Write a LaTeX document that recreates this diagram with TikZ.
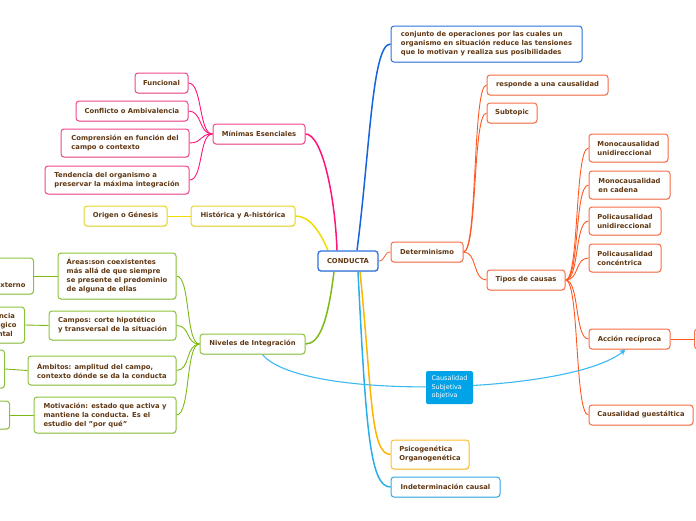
\documentclass[tikz,border=0pt]{standalone}
\usepackage{fontspec}
\setmainfont{DejaVu Sans}
\usetikzlibrary{arrows.meta,backgrounds,shadows}
\definecolor{txt}{RGB}{96,56,19}
\definecolor{cblue}{RGB}{20,100,220}
\definecolor{bblue}{RGB}{45,115,220}
\definecolor{corange}{RGB}{255,87,34}
\definecolor{borange}{RGB}{250,110,70}
\definecolor{cpink}{RGB}{255,20,120}
\definecolor{bpink}{RGB}{240,70,140}
\definecolor{cyellow}{RGB}{240,220,0}
\definecolor{byellow}{RGB}{232,212,40}
\definecolor{cgreen}{RGB}{125,185,20}
\definecolor{bgreen}{RGB}{140,195,60}
\definecolor{cgold}{RGB}{255,180,0}
\definecolor{bgold}{RGB}{255,190,40}
\definecolor{clblue}{RGB}{40,175,235}
\definecolor{blblue}{RGB}{50,170,230}
\definecolor{causfill}{RGB}{0,163,232}
\definecolor{relc}{RGB}{60,185,240}
\begin{document}
\begin{tikzpicture}[x=1pt,y=-1pt,
  bx/.style={draw=#1, rounded corners=3pt, line width=1pt, fill=white, text=txt,
    font=\bfseries\fontsize{6.8}{9}\selectfont, align=left, inner xsep=4pt, inner ysep=1pt,
    drop shadow={shadow xshift=0.4pt, shadow yshift=-0.8pt, opacity=0.25}},
  ln/.style={draw=#1, line width=0.9pt},
  mainln/.style={draw=#1, line width=1.5pt}]
\useasboundingbox (0,0) rectangle (696,520);

% central
\node[bx=bblue, line width=1.3pt, minimum width=60pt, minimum height=20pt] (cond) at (348,261) {CONDUCTA};

% blue branch
\node[bx=bblue, minimum width=191pt, minimum height=36pt] (conj) at (486.5,44)
  {conjunto de operaciones por las cuales un\\organismo en situación reduce las tensiones\\que lo motivan y realiza sus posibilidades};

% orange branch
\node[bx=borange, minimum width=72pt, minimum height=20pt] (det) at (427,252) {Determinismo};
\node[bx=borange, minimum width=121pt, minimum height=20pt] (resp) at (547.5,85) {responde a una causalidad};
\node[bx=borange, minimum width=50pt, minimum height=20pt] (subt) at (512,113) {Subtopic};
\node[bx=borange, minimum width=78pt, minimum height=20pt] (tipos) at (526,280) {Tipos de causas};
\node[bx=borange, minimum width=79pt, minimum height=28pt] (mono1) at (628.5,148) {Monocausalidad\\unidireccional};
\node[bx=borange, minimum width=81pt, minimum height=28pt] (mono2) at (629.5,185) {Monocausalidad\\en cadena};
\node[bx=borange, minimum width=72pt, minimum height=28pt] (poli1) at (625,221) {Policausalidad\\unidireccional};
\node[bx=borange, minimum width=72pt, minimum height=28pt] (poli2) at (625,258) {Policausalidad\\concéntrica};
\node[bx=borange, minimum width=81pt, minimum height=20pt] (acc) at (629.5,339) {Acción recíproca};
\node[bx=borange, minimum width=80pt, minimum height=20pt, anchor=west] (accc) at (694,339) {};
\node[bx=borange, minimum width=104pt, minimum height=20pt] (guest) at (641,415) {Causalidad guestáltica};

% gold / light blue
\node[bx=bgold, minimum width=78pt, minimum height=29pt] (psico) at (430,454.5) {Psicogenética\\Organogenética};
\node[bx=blblue, minimum width=109pt, minimum height=20pt] (indet) at (445.5,487) {Indeterminación causal};

% pink branch
\node[bx=bpink, minimum width=92pt, minimum height=20pt] (mini) at (259,134) {Mínimas Esenciales};
\node[bx=bpink, minimum width=53pt, minimum height=20pt] (func) at (161.5,83) {Funcional};
\node[bx=bpink, minimum width=112pt, minimum height=20pt] (confl) at (132,111) {Conflicto o Ambivalencia};
\node[bx=bpink, minimum width=128pt, minimum height=28pt] (compr) at (125,143) {Comprensión en función del\\campo o contexto};
\node[bx=bpink, minimum width=144pt, minimum height=28pt] (tend) at (117,180) {Tendencia del organismo a\\preservar la máxima integración};

% yellow branch
\node[bx=byellow, minimum width=104pt, minimum height=20pt] (hist) at (243,216) {Histórica y A-histórica};
\node[bx=byellow, minimum width=83pt, minimum height=20pt] (orig) at (125.5,216) {Origen o Génesis};

% green branch
\node[bx=bgreen, minimum width=105pt, minimum height=20pt] (niv) at (252.5,344) {Niveles de Integración};
\node[bx=bgreen, minimum width=118pt, minimum height=46pt] (areas) at (117,276) {Áreas:son coexistentes\\más allá de que siempre\\se presente el predominio\\de alguna de ellas};
\node[bx=bgreen, minimum width=127pt, minimum height=29pt] (campos) at (112.5,325.5) {Campos: corte hipotético\\y transversal de la situación};
\node[bx=bgreen, minimum width=148pt, minimum height=29pt] (ambitos) at (102,370.5) {Ámbitos: amplitud del campo,\\contexto dónde se da la conducta};
\node[bx=bgreen, minimum width=142pt, minimum height=36pt] (motiv) at (105,415) {Motivación: estado que activa y\\mantiene la conducta. Es el\\estudio del "por qué"};
\node[bx=bgreen, inner xsep=8pt, minimum height=36pt, anchor=east] (areasc) at (34,276) {Mente\\Cuerpo\\Mundo externo};
\node[bx=bgreen, inner xsep=8pt, minimum height=36pt, anchor=east] (camposc) at (25,325) {Conciencia\\Psicológico\\Ambiental};
\node[bx=bgreen, minimum width=80pt, minimum height=38pt, anchor=east] (ambc) at (5,369) {};
\node[bx=bgreen, minimum width=80pt, minimum height=28pt, anchor=east] (motc) at (10,415) {};

% relation label
\node[fill=causfill, rounded corners=2pt, text=white, font=\fontsize{6.5}{8.6}\selectfont,
  align=left, minimum width=47pt, minimum height=33pt, inner xsep=3pt] (caus) at (449.5,387.5)
  {Causalidad\\Subjetiva\\objetiva};

\begin{scope}[on background layer]
% main branches
\draw[mainln=cblue] ([xshift=9pt]cond.north) .. controls (370,150) and (372,44) .. (conj.west);
\draw[mainln=cpink] ([xshift=-11pt]cond.north) .. controls (335,195) and (322,134) .. (mini.east);
\draw[mainln=cyellow] ([xshift=-20pt]cond.north) .. controls (320,232) and (310,216) .. (hist.east);
\draw[mainln=cgreen] ([xshift=-14pt]cond.south) .. controls (328,320) and (320,344) .. (niv.east);
\draw[mainln=cgold] ([xshift=12pt]cond.south) .. controls (372,390) and (370,454.5) .. (psico.west);
\draw[mainln=clblue] ([xshift=10pt]cond.south) .. controls (366,430) and (370,487) .. (indet.west);
\draw[ln=borange] (cond.east) .. controls +(7,0) and +(-7,0) .. (det.west);
% orange
\foreach \c in {resp,subt,tipos}
  \draw[ln=corange] (det.east) .. controls +(14,0) and +(-14,0) .. (\c.west);
\foreach \c in {mono1,mono2,poli1,poli2,acc,guest}
  \draw[ln=corange] (tipos.east) .. controls +(14,0) and +(-14,0) .. (\c.west);
\draw[ln=corange] (acc.east) -- (accc.west);
% pink
\foreach \c in {func,confl,compr,tend}
  \draw[ln=cpink] (mini.west) .. controls +(-14,0) and +(14,0) .. (\c.east);
% yellow
\draw[ln=cyellow] (hist.west) -- (orig.east);
% green
\foreach \c in {areas,campos,ambitos,motiv}
  \draw[ln=cgreen] (niv.west) .. controls +(-14,0) and +(14,0) .. (\c.east);
\draw[ln=cgreen] (areas.west) -- (areasc.east);
\draw[ln=cgreen] (campos.west) -- (camposc.east);
\draw[ln=cgreen] (ambitos.west) -- (ambc.east);
\draw[ln=cgreen] (motiv.west) -- (motc.east);
% relation
\draw[relc, line width=1.1pt, -{Stealth[length=6pt,width=6pt]}]
  ([xshift=10pt]niv.south) .. controls +(38,47) and +(-55,45) .. ([xshift=-4pt]acc.south);
\end{scope}
\end{tikzpicture}
\end{document}
